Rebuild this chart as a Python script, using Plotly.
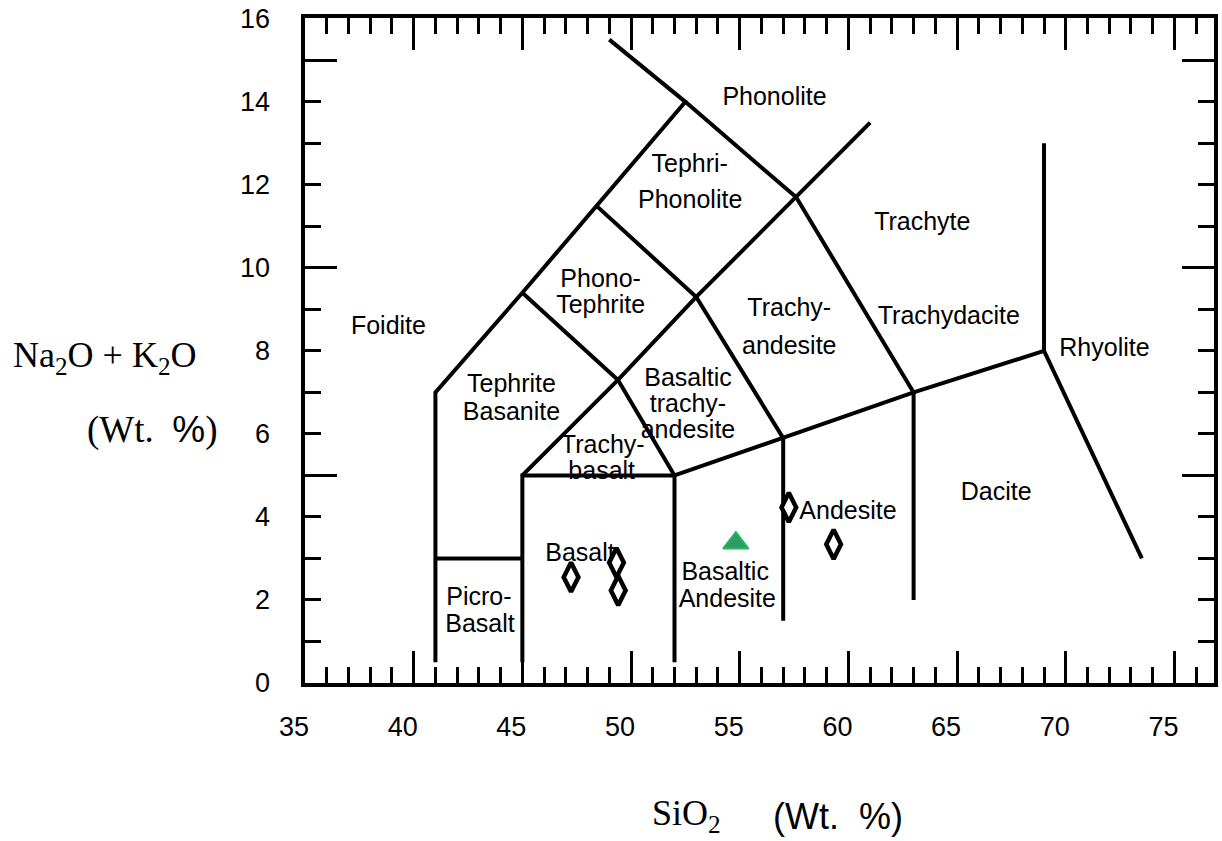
import plotly.graph_objects as go

# ---- TAS field boundaries (SiO2, Na2O+K2O) ----
foidite_x = [41, 41, 45, 48.4, 52.5, 49.0]
foidite_y = [0.5, 7, 9.4, 11.5, 14, 15.5]
picro_x = [41, 45]
picro_y = [3, 3]
basalt_x = [45, 45, 52, 52]
basalt_y = [0.5, 5, 5, 0.5]
trachy_x = [45, 49.4, 53, 57.6, 61.0]
trachy_y = [5, 7.3, 9.3, 11.7, 13.5]
tephrite_x = [45, 49.4, 52]
tephrite_y = [9.4, 7.3, 5]
phonotephrite_x = [48.4, 53, 57]
phonotephrite_y = [11.5, 9.3, 5.9]
phonolite_x = [52.5, 57.6, 63]
phonolite_y = [14, 11.7, 7]
alkaline_x = [52, 57, 63, 69]
alkaline_y = [5, 5.9, 7, 8]
andesite_x = [57, 57]
andesite_y = [5.9, 1.5]
dacite_x = [63, 63]
dacite_y = [7, 2]
rhyolite_x = [69, 69, 73.5]
rhyolite_y = [13, 8, 3]

boundaries = [
    (foidite_x, foidite_y), (picro_x, picro_y), (basalt_x, basalt_y),
    (trachy_x, trachy_y), (tephrite_x, tephrite_y),
    (phonotephrite_x, phonotephrite_y), (phonolite_x, phonolite_y),
    (alkaline_x, alkaline_y), (andesite_x, andesite_y),
    (dacite_x, dacite_y), (rhyolite_x, rhyolite_y),
]

# ---- field names (one entry per text line) ----
field_names = ["Phonolite", "Tephri-", "Phonolite", "Trachyte", "Phono-", "Tephrite",
               "Trachy-", "andesite", "Trachydacite", "Foidite", "Rhyolite",
               "Tephrite", "Basanite", "Basaltic", "trachy-", "andesite",
               "Trachy-", "basalt", "Dacite", "Andesite", "Basalt",
               "Basaltic", "Andesite", "Picro-", "Basalt"]
field_x = [56.60, 52.70, 52.72, 63.40, 48.60, 48.60,
           57.28, 57.28, 64.62, 38.84, 71.78,
           44.50, 44.50, 52.62, 52.62, 52.62,
           48.70, 48.65, 66.80, 59.98, 47.65,
           54.33, 54.43, 43.00, 43.05]
field_y = [14.07, 12.46, 11.60, 11.07, 9.69, 9.06,
           8.98, 8.08, 8.81, 8.56, 8.04,
           7.16, 6.49, 7.30, 6.68, 6.06,
           5.68, 5.06, 4.55, 4.10, 3.09,
           2.63, 1.98, 2.02, 1.38]

# ---- samples ----
sample_sio2 = [47.24, 49.33, 49.41, 57.26, 59.32]
sample_alk = [2.55, 2.90, 2.23, 4.23, 3.34]
mean_sio2 = [54.82]
mean_alk = [3.37]

# ---- axis ticks ----
y_label_vals = [0, 2, 4, 6, 8, 10, 12, 14, 16]

SANS = "Liberation Sans, Arial, sans-serif"
SERIF = "Liberation Serif, Times New Roman, serif"

fig = go.Figure()

# field names on the base y axis (drawn underneath everything else)
fig.add_trace(go.Scatter(
    x=field_x, y=field_y, text=field_names, mode="text",
    textposition="middle center",
    textfont=dict(family=SANS, size=25, color="black"),
    hoverinfo="skip", showlegend=False, cliponaxis=False))

for bx, by in boundaries:
    fig.add_trace(go.Scatter(
        x=bx, y=by, mode="lines", line=dict(color="black", width=4),
        yaxis="y2", hoverinfo="skip", showlegend=False, cliponaxis=False))

fig.add_trace(go.Scatter(
    x=sample_sio2, y=sample_alk, mode="markers", yaxis="y2",
    marker=dict(symbol="diamond-tall", size=21, color="white",
                line=dict(color="black", width=4.5)),
    showlegend=False, cliponaxis=False))

fig.add_trace(go.Scatter(
    x=mean_sio2, y=mean_alk, mode="markers", yaxis="y2",
    marker=dict(symbol="triangle-up", size=22, color="#2f9a68",
                line=dict(color="#20b95a", width=2)),
    showlegend=False, cliponaxis=False))

axis_common = dict(
    showline=True, linecolor="black", linewidth=3.5, mirror="ticks",
    ticks="inside", ticklen=32, tickwidth=3, tickcolor="black",
    showgrid=False, zeroline=False,
    minor=dict(ticks="inside", ticklen=16, tickwidth=3, tickcolor="black", dtick=1, showgrid=False),
)

Y_RANGE = [0, 16.02]

fig.update_layout(
    width=1222, height=841,
    margin=dict(l=305, r=4, t=16, b=158),
    paper_bgcolor="white", plot_bgcolor="white",
    xaxis=dict(range=[35, 76.82], tick0=0, dtick=5,
               tickfont=dict(family=SANS, size=27, color="black"),
               ticklabelshift=-11, ticklabelstandoff=17, **axis_common),
    yaxis=dict(range=Y_RANGE, tick0=0, dtick=5, showticklabels=False, **axis_common),
    yaxis2=dict(range=Y_RANGE, overlaying="y", anchor="x", side="left",
                tickmode="array", tickvals=y_label_vals,
                ticks="", showline=False, showgrid=False,
                zeroline=False, tickfont=dict(family=SANS, size=27, color="black"),
                ticklabeloverflow="allow",
                ticklabelshift=0, ticklabelstandoff=34),
)

W = 1222 - 305 - 4.0
H = 841 - 16 - 158.0
def px(xp):
    return (xp - 305) / W
def py(yp):
    return (841 - 158 - yp) / H

annos = [
    dict(text="Na<sub>2</sub>O + K<sub>2</sub>O", x=px(103.5), y=py(357),
         font=dict(family=SERIF, size=36, color="black")),
    dict(text="(Wt.\u00a0\u00a0<span style=\"font-family:Liberation Sans\">%</span>)",
         x=px(151.5), y=py(429), font=dict(family=SERIF, size=37, color="black")),
    dict(text="SiO<sub>2</sub>", x=px(688.5), y=py(816),
         font=dict(family=SERIF, size=36, color="black")),
    dict(text="(Wt.\u00a0\u00a0%)", x=px(840), y=py(817),
         font=dict(family=SANS, size=36, color="black")),
]
for a in annos:
    fig.add_annotation(xref="paper", yref="paper", showarrow=False,
                       xanchor="center", yanchor="middle", **a)

fig.write_html("out.html")
